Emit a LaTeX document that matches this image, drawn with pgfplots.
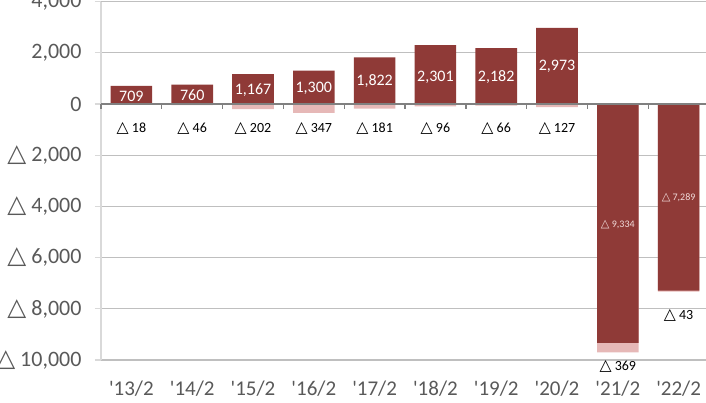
\documentclass[border=0pt]{standalone}
\usepackage{pgfplots}
\pgfplotsset{compat=1.18}
\usepackage{fontspec}
\setmainfont{Carlito}
\newfontfamily\dv{DejaVu Sans}
\definecolor{DarkRed}{HTML}{8F3A37}
\definecolor{Pink}{HTML}{E6B8B7}
\definecolor{GridGray}{HTML}{BFBFBF}
\definecolor{AxisGray}{HTML}{D9D9D9}
\definecolor{ZeroGray}{HTML}{808080}
\definecolor{LabelGray}{HTML}{595959}
\definecolor{SoftPink}{HTML}{F2DCDB}
\newcommand\tri{\scalebox{1.12}{\dv △}}

\begin{document}
\begin{tikzpicture}
\begin{axis}[
  scale only axis, width=608pt, height=358.4pt,
  xmin=-0.5, xmax=9.5, ymin=-10000, ymax=4000,
  axis lines*=left, axis line style={-},
  x axis line style={draw=GridGray, line width=1.3pt},
  y axis line style={draw=AxisGray, line width=2.6pt},
  ymajorgrids, grid style={draw=GridGray, line width=1.3pt},
  xtick={0,...,9}, xtick style={draw=none},
  xticklabels={\textquotesingle13/2,\textquotesingle14/2,\textquotesingle15/2,\textquotesingle16/2,\textquotesingle17/2,
    \textquotesingle18/2,\textquotesingle19/2,\textquotesingle20/2,\textquotesingle21/2,\textquotesingle22/2},
  xticklabel style={font=\fontsize{21}{21}\selectfont, text=LabelGray, yshift=-11pt},
  ytick={-10000,-8000,-6000,-4000,-2000,0,2000,4000},
  yticklabels={{\tri\ 10,000},{\tri\ 8,000},{\tri\ 6,000},{\tri\ 4,000},{\tri\ 2,000},0,{2,000},{4,000}},
  yticklabel style={font=\fontsize{22}{22}\selectfont, text=LabelGray, xshift=-10pt},
  tick align=outside, ytick style={draw=AxisGray, line width=1.2pt}, major tick length=6pt,
  clip=false,
]
% losses below zero (light)
\addplot[ybar, bar shift=0pt, bar width=41.6pt, fill=Pink, draw=none] coordinates {
  (0,-18)(1,-46)(2,-202)(3,-347)(4,-181)(5,-96)(6,-66)(7,-127)(8,-9703)(9,-7332)};
% main result (dark)
\addplot[ybar, bar shift=0pt, bar width=41.6pt, fill=DarkRed, draw=none] coordinates {
  (0,709)(1,760)(2,1167)(3,1300)(4,1822)(5,2301)(6,2182)(7,2973)(8,-9334)(9,-7289)};

% labels inside the dark bars
\addplot[draw=none, mark=none, point meta=explicit symbolic, nodes near coords,
  every node near coord/.style={anchor=center, text=white, font=\fontsize{16}{16}\selectfont}]
  coordinates {(0,300)[709] (1,360)[760] (2,540)[1,167] (3,620)[1,300] (4,911)[1,822]
  (5,1050)[2,301] (6,1060)[2,182] (7,1486)[2,973]};
\addplot[draw=none, mark=none, point meta=explicit symbolic, nodes near coords={\tri\ \pgfplotspointmeta},
  every node near coord/.style={anchor=center, text=SoftPink, font=\fontsize{10}{10}\selectfont}]
  coordinates {(8,-4700)[9,334] (9,-3660)[7,289]};
% labels of the light bars
\addplot[draw=none, mark=none, point meta=explicit symbolic, nodes near coords={\tri\ \pgfplotspointmeta},
  every node near coord/.style={anchor=center, text=black, font=\fontsize{14}{14}\selectfont}]
  coordinates {(0,-950)[18] (1,-950)[46] (2,-950)[202] (3,-950)[347] (4,-950)[181]
  (5,-950)[96] (6,-950)[66] (7,-950)[127] (8,-10270)[369] (9,-8240)[43]};

\draw[ZeroGray, line width=2pt] (axis cs:-0.5,0) -- (axis cs:9.5,0);
\pgfplotsinvokeforeach{-0.5,0.5,1.5,2.5,3.5,4.5,5.5,6.5,7.5,8.5,9.5}{
  \draw[ZeroGray, line width=1.4pt] (axis cs:#1,0) -- ++(0pt,-5pt);
}
\end{axis}
\pgfresetboundingbox
\path[use as bounding box] (-101pt,-43pt) rectangle (605pt,360pt);
\end{tikzpicture}
\end{document}
